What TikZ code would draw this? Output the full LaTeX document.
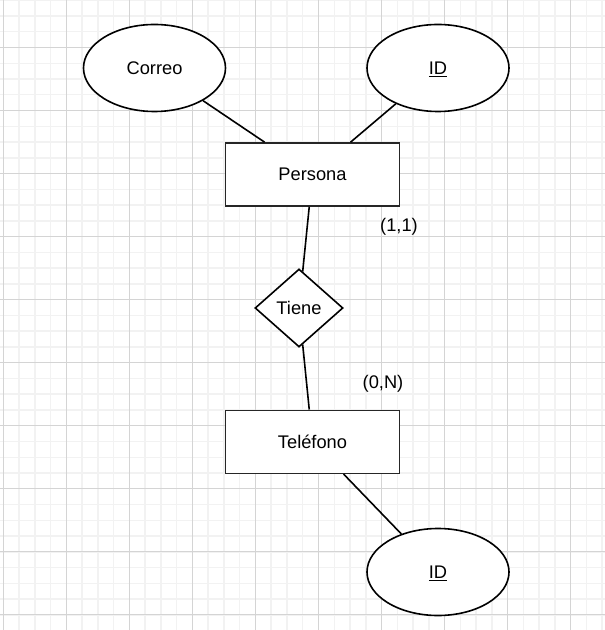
\documentclass[tikz,border=0pt]{standalone}
\usepackage{fontspec}
\setmainfont{Liberation Sans}
\usetikzlibrary{shapes.geometric}

\tikzset{
  entidad/.style={draw=black!85, line width=1.2pt, fill=white,
    minimum width=130.5pt, minimum height=47.25pt, inner sep=0pt},
  atributo/.style={ellipse, draw, line width=1.2pt, fill=white,
    minimum width=106.5pt, minimum height=65.25pt, inner sep=0pt,
    text height=9.8pt, text depth=-0.6pt},
  relacion/.style={diamond, draw, line width=1.2pt, fill=white,
    minimum width=66pt, minimum height=58.5pt, inner sep=0pt},
  enlace/.style={line width=1.2pt},
  cardinal/.style={text=black},
  cuadmenor/.style={draw=black!5, line width=1.1pt},
  cuadmayor/.style={draw=black!17, line width=0.75pt}
}

\begin{document}
\begin{tikzpicture}[x=0.75pt, y=-0.75pt, every node/.style={font=\fontsize{13.7}{16}\selectfont}]
    \useasboundingbox (0,0) rectangle (605,630);

    % Cuadrícula de fondo
    \foreach \i in {0,...,38}
        \draw[cuadmenor] (3.3+15.76*\i,0) -- (3.3+15.76*\i,630);
    \foreach \j in {0,...,39}
        \draw[cuadmenor] (0,0.2+15.76*\j) -- (605,0.2+15.76*\j);
    \foreach \k in {0,...,9} {
        \draw[cuadmayor] (3.3+63.05*\k,0) -- (3.3+63.05*\k,630);
        \draw[cuadmayor] (0,47.3+63.05*\k) -- (605,47.3+63.05*\k);
    }

    % Entidades
    \node[entidad] (persona) at (312.5,174.5) {Persona};
    \node[entidad] (telefono) at (312.5,441.8) {Teléfono};

    % Atributos
    \node[atributo] (correo) at (154.5,68) {Correo};
    \node[atributo] (idpersona) at (438,68) {\underline{ID}};
    \node[atributo] (idtelefono) at (438,572) {\underline{ID}};

    % Relación
    \node[relacion] (tiene) at (299,308) {Tiene};

    \draw[enlace] (correo) -- (persona);
    \draw[enlace] (idpersona) -- (persona);
    \draw[enlace] (persona) -- (tiene);
    \draw[enlace] (tiene) -- (telefono);
    \draw[enlace] (telefono) -- (idtelefono);

    % Cardinalidades
    \node[cardinal] (cardpersona) at (399,226.5) {(1,1)};
    \node[cardinal] (cardtelefono) at (383,384) {(0,N)};
\end{tikzpicture}
\end{document}
